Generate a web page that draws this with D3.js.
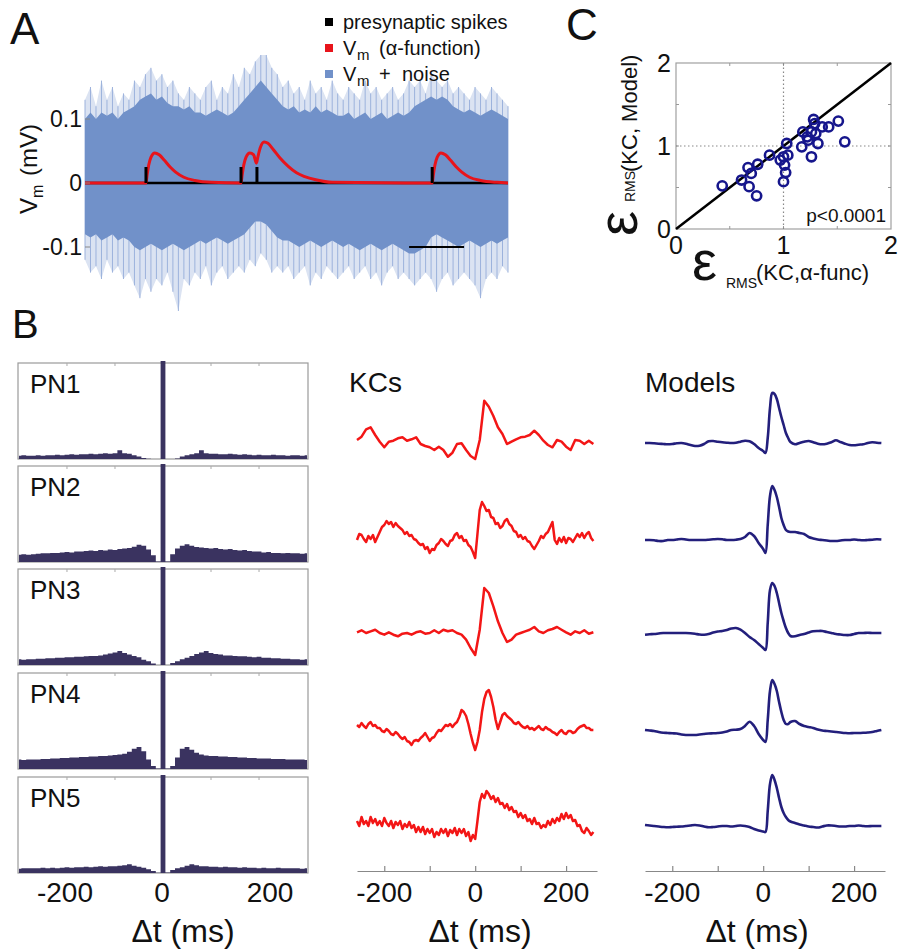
<!DOCTYPE html>
<html><head><meta charset="utf-8">
<script src="https://cdn.jsdelivr.net/npm/d3@7"></script>
<style>body{margin:0;background:#fff}svg{display:block}text{font-family:"Liberation Sans",Arial,Helvetica,sans-serif;fill:#111}</style>
</head><body><svg id="fig" width="902" height="951"></svg>
<script>
// ================= DATA =================
// Panel A : simulated membrane potential (mV) vs time (ms)
const noiseTime = d3.range(0, 771, 10);
const noiseTipHi = [0.13,0.15,0.12,0.16,0.13,0.15,0.12,0.14,0.13,
  0.16,0.15,0.17,0.18,0.16,0.17,0.15,0.16,
  0.14,0.13,0.15,0.14,
  0.13,0.15,0.16,0.13,0.15,0.14,0.17,0.15,
  0.18,0.17,0.19,0.2,0.2,0.18,0.17,0.15,
  0.16,0.14,0.15,0.13,0.16,0.14,0.15,0.13,0.16,0.14,
  0.13,0.15,0.14,0.13,0.16,0.14,0.15,0.13,0.14,0.15,0.13,0.14,0.16,
  0.15,0.16,0.14,0.17,0.16,0.15,0.16,0.14,0.15,
  0.14,0.13,0.15,0.14,0.13,0.15,0.14,0.13,0.12];
const noiseCoreHi = [0.10,0.11,0.10,0.11,0.105,0.11,0.10,0.11,0.115,
  0.12,0.13,0.135,0.14,0.13,0.135,0.125,0.12,
  0.12,0.115,0.12,0.11,
  0.11,0.105,0.11,0.115,0.11,0.105,0.11,0.12,
  0.13,0.14,0.15,0.16,0.15,0.14,0.13,0.12,
  0.115,0.12,0.11,0.115,0.11,0.12,0.11,0.115,0.11,0.105,
  0.105,0.11,0.10,0.105,0.11,0.10,0.105,0.11,0.10,0.105,0.11,0.105,0.11,
  0.12,0.125,0.13,0.135,0.13,0.135,0.13,0.12,0.115,
  0.11,0.115,0.11,0.105,0.11,0.115,0.11,0.105,0.10];
const noiseCoreLo = [-0.08,-0.085,-0.08,-0.09,-0.085,-0.08,-0.09,-0.085,-0.09,
  -0.1,-0.105,-0.1,-0.095,-0.1,-0.105,-0.1,-0.095,
  -0.1,-0.105,-0.1,-0.095,
  -0.09,-0.095,-0.09,-0.085,-0.09,-0.095,-0.09,-0.085,
  -0.08,-0.07,-0.06,-0.06,-0.065,-0.075,-0.085,-0.09,
  -0.09,-0.095,-0.1,-0.095,-0.09,-0.095,-0.1,-0.095,-0.09,-0.095,
  -0.1,-0.095,-0.1,-0.105,-0.1,-0.095,-0.1,-0.105,-0.1,-0.095,-0.1,-0.105,-0.11,
  -0.11,-0.105,-0.1,-0.085,-0.08,-0.085,-0.09,-0.095,-0.1,
  -0.095,-0.09,-0.095,-0.1,-0.095,-0.09,-0.095,-0.09,-0.085];
const noiseTipLo = [-0.12,-0.14,-0.13,-0.15,-0.12,-0.14,-0.13,-0.15,-0.14,
  -0.16,-0.18,-0.15,-0.17,-0.15,-0.16,-0.14,-0.17,
  -0.2,-0.15,-0.16,-0.14,
  -0.15,-0.13,-0.16,-0.14,-0.13,-0.15,-0.14,-0.13,
  -0.14,-0.12,-0.13,-0.11,-0.12,-0.14,-0.13,-0.14,
  -0.13,-0.15,-0.14,-0.13,-0.16,-0.14,-0.15,-0.13,-0.14,-0.15,
  -0.14,-0.13,-0.15,-0.14,-0.13,-0.15,-0.14,-0.16,-0.14,-0.13,-0.15,-0.14,-0.15,
  -0.16,-0.15,-0.14,-0.15,-0.17,-0.15,-0.14,-0.16,-0.15,
  -0.14,-0.15,-0.16,-0.18,-0.15,-0.14,-0.15,-0.13,-0.14];
const alphaTime = [0,111,113,116,120,127,135,145,155,165,180,200,230,
  284,286,289,293,300,307,312,315,319,326,333,343,355,370,385,400,420,450,
  632,634,637,641,648,656,666,676,686,700,720,750,770];
const alphaVm = [0,0,0.012,0.028,0.040,0.047,0.044,0.035,0.025,0.017,0.009,0.004,0.001,
  0,0.012,0.028,0.040,0.047,0.044,0.031,0.042,0.055,0.064,0.062,0.052,0.039,0.026,0.016,0.010,0.005,0.001,
  0,0.012,0.028,0.040,0.047,0.044,0.035,0.025,0.017,0.009,0.004,0.001,0];
const spikeTimes = [111, 284, 313, 632];
const spikeHeight = 0.025;
const scaleBarMs = [590, 690];
const aTicks = [0.1, 0, -0.1];
const aTickLabels = ['0.1', '0', '-0.1'];

// Panel C : RMS errors
const scatterX = [0.43,0.61,0.67,0.76,0.70,0.68,0.75,0.87,1.00,1.00,1.03,1.01,1.04,0.97,1.17,1.22,1.26,1.26,1.29,1.32,1.36,1.42,1.51,1.57,1.23,1.30,1.18,1.28,1.02];
const scatterY = [0.52,0.59,0.74,0.78,0.67,0.51,0.40,0.89,0.57,0.87,1.03,0.77,0.89,0.83,0.99,1.11,0.87,1.17,1.27,1.03,1.23,1.23,1.30,1.05,1.07,1.15,1.17,1.32,0.68];
const cTicks = [0, 1, 2];

// Panel B : PN cross-correlograms
const pnNames = ['PN1','PN2','PN3','PN4','PN5'];
const histTime = d3.range(-300, 301, 10);
const pn1 = [0.7,0.8,0.7,
  0.7,0.8,0.7,0.8,0.8,0.9,0.8,0.9,1.0,0.9,1.0,1.0,1.1,1.0,1.1,1.2,1.1,1.2,1.8,1.2,1.1,0.8,0.5,0.2,
  0.05,0,0,21,0,0,0.1,
  0.5,0.8,1.0,1.2,1.8,1.2,1.1,1.1,1.0,1.0,1.1,1.0,0.9,1.0,0.9,0.8,0.9,0.8,0.8,0.9,0.8,0.8,0.7,0.8,
  0.8,0.7,0.8];
const pn2 = [1.5,1.6,1.5,
  1.6,1.7,1.8,1.8,1.9,1.9,2.0,2.1,2.0,2.2,2.2,2.3,2.4,2.3,2.5,2.4,2.6,2.5,2.7,2.8,2.9,3.2,
  3.6,3.4,2.6,1.4,0.1,
  21,
  0.1,1.6,2.8,3.4,3.7,
  3.4,3.1,3.0,
  2.9,2.8,2.9,2.7,2.6,2.7,2.5,2.4,2.5,2.3,2.2,2.2,2.0,2.1,1.9,1.9,1.8,1.9,1.8,
  1.8,1.7,1.8];
const pn3 = [1.2,1.1,1.2,
  1.2,1.3,1.3,1.4,1.4,1.5,1.5,1.6,1.6,1.7,1.7,1.8,1.9,1.9,2.0,2.2,2.4,2.6,
  2.9,2.5,2.2,1.9,1.6,1.1,0.8,0.3,0,
  21,
  0,0.4,0.8,1.2,1.5,1.9,2.3,2.6,2.9,2.5,
  2.3,2.2,2.0,2.0,1.9,1.8,1.8,1.7,1.6,1.7,1.5,1.5,1.4,1.4,1.3,1.3,1.2,
  1.2,1.1,1.2];
const pn4 = [2.0,1.9,2.0,
  2.0,2.0,2.1,2.1,2.2,2.2,2.3,2.3,2.4,2.4,2.5,2.5,2.6,2.6,2.7,2.7,2.8,2.9,3.0,3.2,3.6,
  4.2,4.6,3.7,2.0,0.6,0.1,
  21,
  0.1,0.6,2.4,4.2,4.6,4.0,3.4,3.0,2.8,
  2.7,2.7,2.6,2.6,2.5,2.5,2.4,2.4,2.3,2.3,2.2,2.2,2.2,2.1,2.1,2.1,2.0,2.0,
  2.0,2.0,1.9];
const pn5 = [0.9,1.0,1.0,
  1.0,1.0,1.1,1.0,1.1,1.0,1.1,1.2,1.1,1.2,1.2,1.3,1.2,1.3,1.4,1.3,1.4,1.4,1.5,1.6,
  1.8,1.5,1.3,1.1,0.8,0.4,0.05,
  21,
  0.1,0.6,1.0,1.2,1.5,1.8,1.6,
  1.4,1.4,1.3,1.3,1.2,1.3,1.2,1.2,1.1,1.2,1.1,1.1,1.0,1.1,1.0,1.0,1.1,1.0,1.0,1.0,
  1.0,0.9,1.0];
const pnHists = [pn1, pn2, pn3, pn4, pn5];

// Panel B : KC spike-triggered averages (arb. units)
const kcTimeCoarse = d3.range(-260, 261, 10);
const kcTimeFine = d3.range(-260, 261, 5);
const kc1 = [0,0.33,1.07,1.27,0.5,-0.17,-0.73,-0.17,-0.07,0.17,0.27,-0.07,0.07,0.27,-0.4,-0.6,-0.73,-1.0,-0.67,-1.0,-1.67,-1.27,-0.4,-0.33,-1.0,-1.6,
  -1.9,0.0,3.93,3.33,2.4,1.27,0.6,-0.4,-0.17,0.07,0.27,0.33,0.5,0.93,0.5,-0.07,-0.5,-0.73,0,-0.17,-0.67,-1.0,0,-0.07,-0.4,-0.07,-0.4];
const kc2 = [0.0,0.6,0.5,0.1,-0.2,0.4,0.1,0.5,-0.2,0.3,
  0.8,1.3,1.5,1.9,1.6,1.8,1.3,1.7,1.4,1.2,
  1.0,0.6,0.8,0.4,0.5,0.1,0.0,-0.3,-0.5,-0.4,
  -0.9,-0.7,-1.3,-0.9,-1.0,-0.5,-0.3,0.1,-0.1,-0.4,
  -0.6,-0.1,0.0,0.5,0.7,0.2,0.4,-0.1,0.0,-0.5,
  -0.7,-1.2,-1.8,
  0.6,3.0,3.8,3.4,2.9,3.0,2.3,2.2,1.6,1.7,
  1.2,1.4,1.9,2.1,1.6,1.4,0.9,0.8,0.3,0.5,
  0.1,0.3,-0.1,-0.2,-0.6,-0.9,-0.5,-0.1,0.4,0.2,
  0.6,0.8,1.3,1.8,0.0,-0.4,0.2,-0.2,0.3,-0.3,
  0.2,0.1,-0.2,0.2,0.6,0.3,0.7,0.2,0.6,0.8,
  0.2,-0.1];
const kc3 = [0.07,0.27,0,0.17,0.33,0,-0.17,0.07,-0.17,-0.33,-0.07,0,-0.17,0.07,0.17,-0.07,0,0.27,0,0.33,0.17,0.27,0,-0.17,-0.67,-1.5,
  -2.2,0.33,4.5,4.0,2.67,1.17,0,-0.9,-0.67,-0.17,0,0.17,0.33,0.6,0.17,0,0.27,0.4,0.6,0.33,0.07,-0.17,0.17,0,0.27,-0.07,0.07];
const kc4 = [0.2,0.0,0.4,0.1,-0.1,0.3,0.5,0.1,0.2,-0.1,
  -0.1,-0.4,-0.5,-0.2,-0.4,-0.7,-0.8,-0.5,-0.7,-1.0,
  -1.2,-1.0,-1.4,-1.5,-1.8,-1.4,-1.3,-1.4,-1.1,-0.9,
  -0.6,-1.0,-1.4,-1.1,-1.0,-0.6,-0.3,-0.4,-0.1,0.2,
  0.1,0.3,0.0,0.3,0.5,1.0,1.7,1.5,1.1,0.3,
  -0.7,-1.6,-2.3,
  -1.5,-0.3,1.5,2.8,3.5,3.7,3.0,2.0,0.7,-0.2,
  0.5,1.2,1.4,1.1,0.9,0.7,0.4,0.3,0.5,0.2,
  0.0,-0.1,0.1,-0.2,-0.1,-0.3,-0.1,0.1,-0.2,-0.3,
  0.0,-0.2,-0.3,-0.5,-0.6,-0.8,-0.5,-0.3,-0.6,-0.7,
  -0.4,-0.4,-0.6,-0.5,-0.2,0.0,0.1,0.2,-0.1,-0.1,
  -0.3,-0.3];
const kc5 = [0.2,-0.3,0.6,-0.1,0.2,-0.3,0.6,0.0,0.4,-0.2,
  0.2,-0.3,0.5,0.0,-0.3,0.2,-0.5,0.1,-0.2,0.2,
  -0.6,-0.1,-0.4,0.1,-0.5,-0.2,-0.9,-0.4,-0.9,-0.4,
  -1.1,-0.6,-1.0,-0.6,-1.4,-0.9,-1.2,-0.6,-1.0,-0.6,
  -1.3,-0.7,-1.0,-0.5,-1.2,-0.6,-1.0,-0.6,-1.3,-0.9,
  -1.8,-1.2,-1.6,
  0.2,2.1,2.9,2.5,3.2,2.9,2.4,2.7,2.1,2.5,
  1.9,2.0,1.5,1.9,1.3,1.6,1.1,1.2,0.6,1.0,
  0.5,0.8,0.2,0.4,-0.1,0.5,-0.1,0.0,-0.5,-0.2,
  -0.4,0.2,-0.2,0.4,0.0,0.5,0.2,0.9,0.4,1.0,
  0.5,0.8,0.2,0.3,-0.3,-0.2,-0.8,-1.0,-0.5,-0.8,
  -1.2,-0.9];
const kcTraces = [[kcTimeCoarse,kc1],[kcTimeFine,kc2],[kcTimeCoarse,kc3],[kcTimeFine,kc4],[kcTimeFine,kc5]];

// Panel B : model predictions
const modelTime = d3.range(-260, 0, 10).concat(d3.range(0, 61, 5), d3.range(70, 261, 10));
const model1 = [0,0,-0.03,-0.07,-0.1,-0.13,-0.1,-0.03,0,-0.07,-0.2,-0.3,-0.27,-0.1,0.17,0.2,0.13,0.07,0.03,0,0.03,0.13,0.23,0.17,-0.1,-0.5,
  -0.8,-1.0,0.5,3.5,5.0,4.9,4.4,3.5,2.6,1.8,1.0,0.5,0.1,
  -0.13,0,0.13,0.2,0.07,-0.07,-0.13,-0.07,0.07,0.27,0.1,-0.07,-0.2,-0.23,-0.17,-0.13,0,0.07,0.03,0];
const model2 = [0,0,-0.03,-0.1,-0.1,0,0,0.05,0.1,0.05,0,0,0,0,0.03,0.07,0.1,0.07,0,0,0.03,0.1,0.3,0.7,0.4,-0.3,
  -0.9,-1.3,1.5,4.4,5.4,5.0,4.3,3.3,2.2,1.5,1.0,0.85,0.8,
  0.8,0.7,0.6,0.3,0.15,0.05,0,-0.05,-0.1,-0.1,-0.05,0,0,0.05,0,-0.03,0,0.03,0.07,0.05];
const model3 = [-0.17,-0.13,-0.1,-0.05,0,0,0,0,0,0,-0.03,-0.08,-0.15,-0.17,-0.1,0.05,0.15,0.2,0.3,0.45,0.5,0.33,0,-0.4,-0.7,-1.1,
  -1.5,-1.7,1.0,4.3,5.0,4.7,4.0,3.0,2.0,1.2,0.5,0,-0.3,
  -0.33,-0.2,-0.1,0.05,0.17,0.2,0.2,0.1,0,-0.1,-0.15,-0.2,-0.2,-0.1,0,0,0.02,0,0,0];
const model4 = [0,-0.05,-0.1,-0.2,-0.27,-0.3,-0.33,-0.35,-0.45,-0.5,-0.5,-0.5,-0.45,-0.4,-0.35,-0.33,-0.3,-0.25,-0.15,0,0.03,0.1,0.4,0.83,0.4,-0.4,
  -1.0,-1.2,1.0,3.9,5.0,4.6,3.9,2.8,1.8,1.0,0.6,0.6,0.8,
  0.9,0.6,0.4,0.3,0.2,0.05,-0.05,-0.1,-0.15,-0.2,-0.25,-0.3,-0.33,-0.3,-0.3,-0.28,-0.25,-0.2,-0.1,0];
const model5 = [0.1,0.05,0,-0.05,-0.1,-0.13,-0.1,-0.07,-0.05,0,0.05,0.1,0.05,-0.05,-0.13,-0.1,-0.05,0,0,-0.05,0,0.05,0,-0.1,-0.3,-0.45,
  -0.55,-0.6,1.5,4.2,5.1,4.6,3.8,2.8,1.9,1.3,0.9,0.6,0.45,
  0.3,0.15,0.05,-0.05,-0.1,-0.15,-0.05,0.05,0.05,0,-0.05,-0.05,0,0,0.05,0,-0.02,0,0,0];
const modelTraces = [model1, model2, model3, model4, model5];

const bTicks = [-200, -100, 0, 100, 200];
const bTickLabels = [-200, 0, 200];

// ================= DRAW =================
const svg = d3.select('#fig');
function txt(g, x, y, s, size, anchor) {
  const t = g.append('text').attr('x', x).attr('y', y).attr('font-size', size).text(s);
  if (anchor) t.attr('text-anchor', anchor);
  return t;
}

// ---- Panel labels
txt(svg, 10, 44, 'A', 44);
txt(svg, 12, 338, 'B', 40);
txt(svg, 566, 40, 'C', 44);

// ---- Panel A
const gA = svg.append('g');
const ax = d3.scaleLinear().domain([0, 770]).range([85, 508]);
const ay = d3.scaleLinear().domain([-0.1, 0.1]).range([247, 119]);
gA.append('path').datum(noiseTime)
  .attr('d', d3.area().x(t => ax(t)).y0((t, i) => ay(noiseTipLo[i])).y1((t, i) => ay(noiseTipHi[i])))
  .attr('fill', '#dbe3f2');
gA.selectAll('line.hair').data(noiseTime).join('line').attr('class', 'hair')
  .attr('x1', t => ax(t)).attr('x2', t => ax(t))
  .attr('y1', (t, i) => ay(noiseTipLo[i])).attr('y2', (t, i) => ay(noiseTipHi[i]))
  .attr('stroke', '#9cb2dc').attr('stroke-width', 1);
gA.append('path').datum(noiseTime)
  .attr('d', d3.area().x(t => ax(t)).y0((t, i) => ay(noiseCoreLo[i])).y1((t, i) => ay(noiseCoreHi[i])))
  .attr('fill', '#7191c9');
// baseline
gA.append('line').attr('x1', ax(0)).attr('x2', ax(770)).attr('y1', ay(0)).attr('y2', ay(0))
  .attr('stroke', '#000').attr('stroke-width', 2.5);
// alpha function
gA.append('path').datum(alphaTime)
  .attr('d', d3.line().x(t => ax(t)).y((t, i) => ay(alphaVm[i])).curve(d3.curveMonotoneX))
  .attr('fill', 'none').attr('stroke', '#e8141b').attr('stroke-width', 3);
// spikes
gA.selectAll('line.spk').data(spikeTimes).join('line').attr('class', 'spk')
  .attr('x1', t => ax(t)).attr('x2', t => ax(t)).attr('y1', ay(0)).attr('y2', ay(spikeHeight))
  .attr('stroke', '#000').attr('stroke-width', 3);
// scale bar
gA.append('line').attr('x1', ax(scaleBarMs[0])).attr('x2', ax(scaleBarMs[1]))
  .attr('y1', ay(-0.1)).attr('y2', ay(-0.1)).attr('stroke', '#000').attr('stroke-width', 2);
// y ticks
aTicks.forEach((v, i) => {
  gA.append('line').attr('x1', 85).attr('x2', 90).attr('y1', ay(v)).attr('y2', ay(v)).attr('stroke', '#888');
  txt(gA, 82, ay(v) + 8, aTickLabels[i], 23, 'end');
});
// y label
const yl = gA.append('g').attr('transform', 'translate(37,214) rotate(-90)');
txt(yl, 0, 0, 'V', 24);
txt(yl, 16, 6, 'm', 16);
txt(yl, 38, 0, '(mV)', 24);
// legend
const legend = [
  {color: '#000', parts: [['presynaptic spikes', 20, 0, 0]]},
  {color: '#e8141b', parts: [['V', 20, 0, 0], ['m', 15, 14, 5], ['(\u03b1-function)', 20, 36, 0]]},
  {color: '#7191c9', parts: [['V', 20, 0, 0], ['m', 15, 14, 5], ['+', 20, 36, 0], ['noise', 20, 59, 0]]}
];
legend.forEach((row, i) => {
  const yb = 29 + i * 26;
  gA.append('rect').attr('x', 325).attr('y', yb - 11).attr('width', 8).attr('height', 8).attr('fill', row.color);
  row.parts.forEach(p => txt(gA, 343 + p[2], yb + p[3], p[0], p[1]));
});

// ---- Panel C
const gC = svg.append('g');
const cx = d3.scaleLinear().domain([0, 2]).range([676, 891]);
const cy = d3.scaleLinear().domain([0, 2]).range([229, 63]);
gC.append('rect').attr('x', cx(0)).attr('y', cy(2)).attr('width', cx(2) - cx(0)).attr('height', cy(0) - cy(2))
  .attr('fill', '#fff').attr('stroke', '#a0a0a0').attr('stroke-width', 1.2);
[0.5, 1, 1.5].forEach(v => {
  gC.append('line').attr('x1', cx(v)).attr('x2', cx(v)).attr('y1', cy(0)).attr('y2', cy(0) - 3).attr('stroke', '#999');
  gC.append('line').attr('x1', cx(v)).attr('x2', cx(v)).attr('y1', cy(2)).attr('y2', cy(2) + 3).attr('stroke', '#999');
  gC.append('line').attr('x1', cx(0)).attr('x2', cx(0) + 3).attr('y1', cy(v)).attr('y2', cy(v)).attr('stroke', '#999');
  gC.append('line').attr('x1', cx(2)).attr('x2', cx(2) - 3).attr('y1', cy(v)).attr('y2', cy(v)).attr('stroke', '#999');
});
gC.append('line').attr('x1', cx(1)).attr('x2', cx(1)).attr('y1', cy(0)).attr('y2', cy(2))
  .attr('stroke', '#888').attr('stroke-width', 1.2).attr('stroke-dasharray', '1.5,2.5');
gC.append('line').attr('x1', cx(0)).attr('x2', cx(2)).attr('y1', cy(1)).attr('y2', cy(1))
  .attr('stroke', '#888').attr('stroke-width', 1.2).attr('stroke-dasharray', '1.5,2.5');
gC.append('line').attr('x1', cx(0)).attr('x2', cx(2)).attr('y1', cy(0)).attr('y2', cy(2))
  .attr('stroke', '#000').attr('stroke-width', 2.5);
gC.selectAll('circle').data(scatterX).join('circle')
  .attr('cx', d => cx(d)).attr('cy', (d, i) => cy(scatterY[i])).attr('r', 4.6)
  .attr('fill', 'none').attr('stroke', '#16168c').attr('stroke-width', 2.6);
txt(gC, 886, 222, 'p<0.0001', 19, 'end');
cTicks.forEach(v => {
  txt(gC, 671, cy(v) + 9, String(v), 25, 'end');
  txt(gC, cx(v), 254, String(v), 25, 'middle');
});
txt(gC, 692, 280, '\u03b5', 56);
txt(gC, 726, 288, 'RMS', 14);
txt(gC, 756, 280, '(KC,\u03b1-func)', 22);
const cyl = gC.append('g').attr('transform', 'translate(637,236) rotate(-90)');
txt(cyl, 0, 0, '\u03b5', 56);
txt(cyl, 34, -2, 'RMS', 14);
txt(cyl, 64, 0, '(KC, Model)', 22);

// ---- Panel B : PN histograms
const gB = svg.append('g');
const pnX = d3.scaleLinear().domain([-302, 302]).range([18, 308]);
const pnTops = [363, 466, 569, 673, 777];
const boxH = 96;
pnHists.forEach((h, k) => {
  const top = pnTops[k], bot = top + boxH;
  const y = d3.scaleLinear().domain([0, 20]).range([bot, top]);
  const clipId = 'clip' + k;
  gB.append('clipPath').attr('id', clipId).append('rect')
    .attr('x', pnX(-302)).attr('y', top - 2).attr('width', pnX(302) - pnX(-302)).attr('height', boxH + 2);
  gB.append('rect').attr('x', pnX(-302)).attr('y', top).attr('width', pnX(302) - pnX(-302)).attr('height', boxH)
    .attr('fill', 'none').attr('stroke', '#9a9a9a').attr('stroke-width', 1.2);
  bTicks.filter(v => v !== 0).forEach(v => {
    gB.append('line').attr('x1', pnX(v)).attr('x2', pnX(v)).attr('y1', top).attr('y2', top + 3).attr('stroke', '#aaa');
  });
  gB.append('path').datum(histTime).attr('clip-path', `url(#${clipId})`)
    .attr('d', d3.area().x(t => pnX(t)).y0(bot).y1((t, i) => y(h[i])).curve(d3.curveStep))
    .attr('fill', '#3a3360');
  txt(gB, 30, top + 30, pnNames[k], 26);
});
const pnLabelX = d3.scaleLinear().domain([-200, 0, 200]).range([65, 162, 270]);
bTickLabels.forEach(v => txt(gB, pnLabelX(v), 902, String(v), 28, 'middle'));
txt(gB, 183, 942, '\u0394t (ms)', 32, 'middle');

// ---- KC and Model traces
const kcBase = [440, 540, 633, 727, 823];
const mdBase = [443, 540, 633, 730, 826];
const kx = d3.scaleLinear().domain([-260, 268]).range([357, 597]);
const mx = d3.scaleLinear().domain([-260, 268]).range([645, 885]);
txt(svg, 349, 392, 'KCs', 28);
txt(svg, 645, 392, 'Models', 28);
kcTraces.forEach(([tt, vv], k) => {
  const y = d3.scaleLinear().domain([0, 1]).range([kcBase[k], kcBase[k] - 10]);
  svg.append('path').datum(tt)
    .attr('d', d3.line().x(t => kx(t)).y((t, i) => y(vv[i])))
    .attr('fill', 'none').attr('stroke', '#f31616').attr('stroke-width', 2.5).attr('stroke-linejoin', 'round');
});
modelTraces.forEach((vv, k) => {
  const y = d3.scaleLinear().domain([0, 1]).range([mdBase[k], mdBase[k] - 10]);
  svg.append('path').datum(modelTime)
    .attr('d', d3.line().x(t => mx(t)).y((t, i) => y(vv[i])).curve(d3.curveCatmullRom.alpha(0.5)))
    .attr('fill', 'none').attr('stroke', '#231f7c').attr('stroke-width', 2.6).attr('stroke-linejoin', 'round');
});
[[kx, 480], [mx, 757]].forEach(([sc, cxl]) => {
  const g = svg.append('g').attr('transform', 'translate(0,871)');
  g.call(d3.axisTop(sc).tickValues(bTicks).tickSize(5).tickSizeOuter(0).tickFormat(''));
  g.selectAll('path,line').attr('stroke', '#888').attr('stroke-width', 1.2);
  bTickLabels.forEach(v => txt(svg, sc(v), 902, String(v), 28, 'middle'));
  txt(svg, cxl, 942, '\u0394t (ms)', 32, 'middle');
});
</script></body></html>
